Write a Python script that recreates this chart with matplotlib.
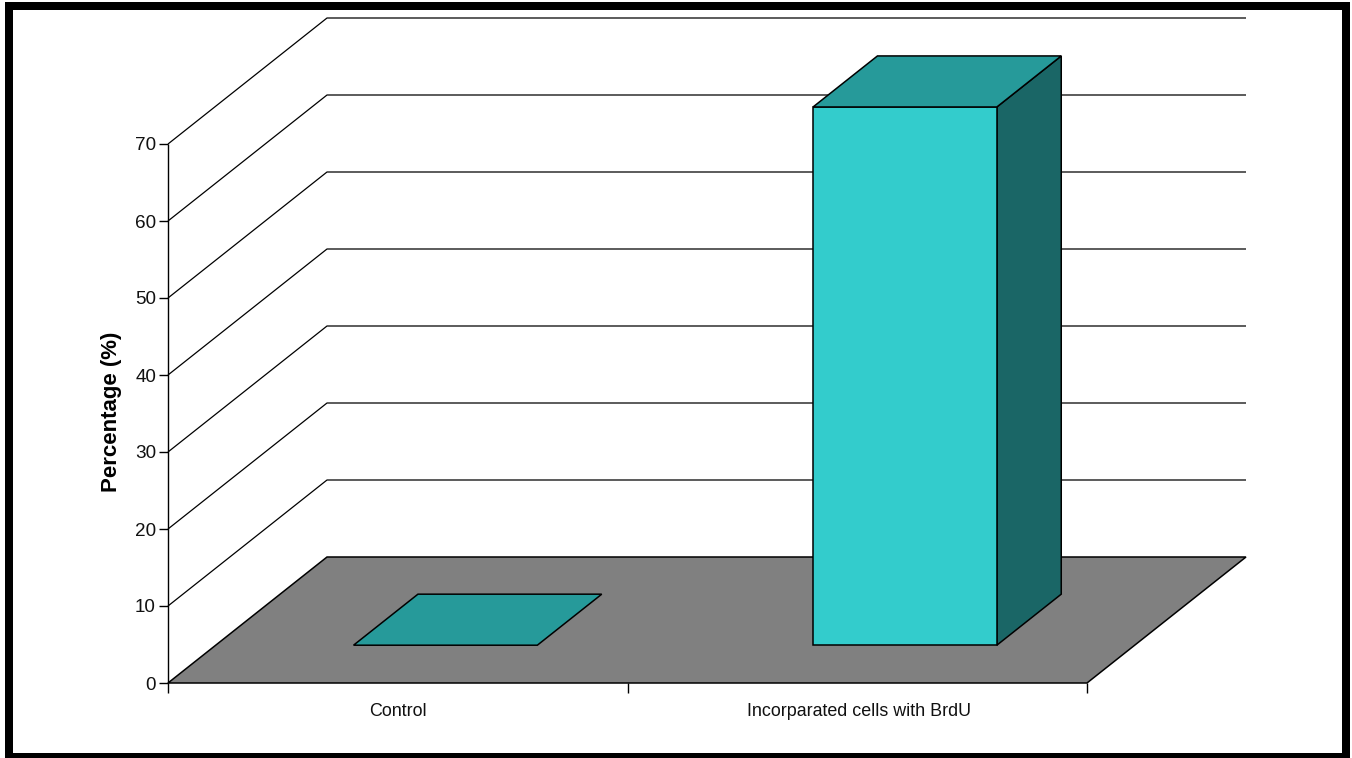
import matplotlib
matplotlib.use('Agg')
import matplotlib.pyplot as plt
from matplotlib.patches import Polygon, Rectangle

categories = ['Control', 'Incorparated cells with BrdU']
values = [0, 69.9]
y_ticks = [0, 10, 20, 30, 40, 50, 60, 70]

W, H = 1352, 758
FLOOR = '#808080'
FRONT = '#33cccc'
TOP = '#269a9a'
SIDE = '#1a6666'

plt.rcParams['font.family'] = ['Liberation Sans', 'DejaVu Sans']

fig = plt.figure(figsize=(W / 100, H / 100), dpi=100)
ax = fig.add_axes([168 / W, 1 - 683 / H, 919 / W, 539 / H])
ax.set_xlim(0, 2)
ax.set_ylim(0, 70)
ax.axis('off')

# depth of the 3d box, in data units
dx = 159 / 459.5
dy = 126 / 7.7


def project(x, y, d):
    return (x + d * dx, y + d * dy)


def face(points, color, zorder, lw=1.1):
    ax.add_patch(Polygon(points, closed=True, facecolor=color, edgecolor='black',
                         linewidth=lw, clip_on=False, zorder=zorder, joinstyle='miter'))


def line(xs, ys, zorder=2, lw=1.0):
    ax.plot(xs, ys, color='black', linewidth=lw, clip_on=False, zorder=zorder,
            solid_capstyle='butt')


# floor
face([project(0, 0, 0), project(2, 0, 0), project(2, 0, 1), project(0, 0, 1)], FLOOR, 1)

# grid on the left and back walls
for t in y_ticks[1:]:
    x0, y0 = project(0, t, 0)
    x1, y1 = project(0, t, 1)
    x2, y2 = project(2, t, 1)
    line([x0, x1, x2], [y0, y1, y2], lw=0.9)

# y axis and ticks
line([0, 0], [0, 70], zorder=3)
for t in y_ticks:
    line([-9 / 459.5, 0], [t, t], zorder=3)
    ax.annotate(str(t), (0, t), xytext=(-12, -2), textcoords='offset pixels', ha='right',
                va='center', fontsize=13.6, color='#111111', annotation_clip=False)

# x axis and ticks
for t in [0, 1, 2]:
    line([t, t], [0, -10 / 7.7], zorder=3)
for i, name in enumerate(categories):
    ax.annotate(name, (i + 0.5, 0), xytext=(2 * i, -28), textcoords='offset pixels', ha='center',
                va='center', fontsize=12.9, color='#111111', annotation_clip=False)

ax.annotate('Percentage (%)', (0, 35), xytext=(-56, 2), textcoords='offset pixels', ha='center',
            va='center', rotation=90, fontsize=16, fontweight='bold', annotation_clip=False)

# bars, each one sits between 0.3 and 0.7 of the depth
for i, v in enumerate(values):
    left, right = i + 0.3, i + 0.7
    near, far = 0.3, 0.705
    if v > 0:
        face([project(right, 0, near), project(right, 0, far), project(right, v, far),
              project(right, v, near)], SIDE, 5)
        face([project(left, 0, near), project(right, 0, near), project(right, v, near),
              project(left, v, near)], FRONT, 6)
    face([project(left, v, near), project(right, v, near), project(right, v, far),
          project(left, v, far)], TOP, 7)

# black frame round the whole figure
fig.add_artist(Rectangle((9 / W, 1 - 757 / H), 1337 / W, 751 / H, transform=fig.transFigure,
                         fill=False, edgecolor='black', linewidth=5.76, joinstyle='miter'))

fig.savefig('out.png', dpi=100)
